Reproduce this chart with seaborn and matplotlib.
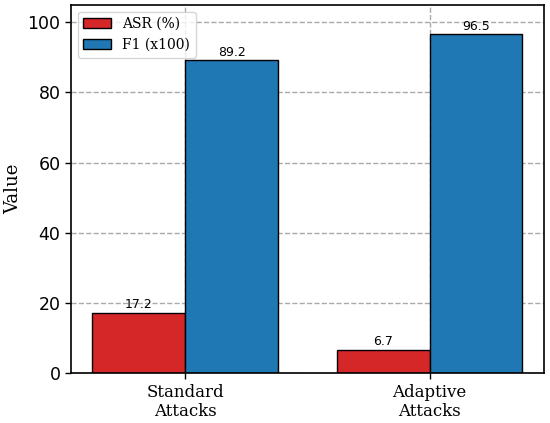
import matplotlib
matplotlib.use("Agg")
import matplotlib.pyplot as plt
import seaborn as sns
import pandas as pd

categories = ["Standard\nAttacks", "Adaptive\nAttacks"]
series_names = ["ASR (%)", "F1 (x100)"]
asr_values = [17.2, 6.7]
f1_values = [89.2, 96.5]
colors = ["#d62728", "#1f77b4"]

sns.set_style("white")
plt.rcParams['font.family'] = ['DejaVu Serif']
plt.rcParams.update({"text.color": "black", "axes.labelcolor": "black",
                     "xtick.color": "black", "ytick.color": "black"})

df = pd.DataFrame({
    "Category": categories * 2,
    "Metric": [series_names[0]] * 2 + [series_names[1]] * 2,
    "Value": asr_values + f1_values,
})

group_width = 0.76

fig, ax = plt.subplots(figsize=(5.5, 4.23), dpi=100)
sns.barplot(data=df, x="Category", y="Value", hue="Metric", palette=colors,
            edgecolor="black", linewidth=1, saturation=1, ax=ax, errorbar=None,
            width=group_width)

for cont in ax.containers:
    ax.bar_label(cont, fmt="%.1f", fontsize=9, padding=1, family="DejaVu Sans")

half = group_width / 2
span = (len(categories) - 1) + 2 * half
ax.set_xlim(-half - 0.05 * span, len(categories) - 1 + half + 0.05 * span)
ax.set_ylim(0, 105)
ax.set_xlabel("")
ax.set_ylabel("Value", fontsize=13)
ax.grid(True, linestyle="--", color="#aaaaaa", linewidth=1)
ax.set_axisbelow(True)
ax.tick_params(axis="x", labelsize=12, direction="out", length=4, width=1, bottom=True)
ax.tick_params(axis="y", labelsize=12.5, direction="out", length=4, width=1, left=True)
for lab in ax.get_yticklabels():
    lab.set_family("DejaVu Sans")
for sp in ax.spines.values():
    sp.set_color("black")
    sp.set_linewidth(1.2)
leg = ax.legend(loc="upper left", fontsize=10, frameon=True)
leg.set_title(None)

fig.subplots_adjust(left=0.129, right=0.989, top=0.989, bottom=0.118)
fig.savefig("out.png", dpi=100)
